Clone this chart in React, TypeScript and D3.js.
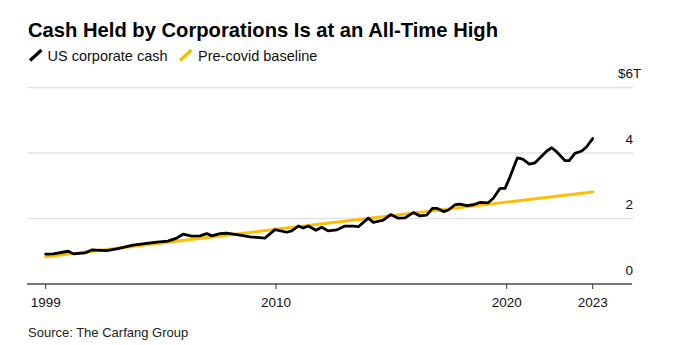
import React from "react";
import * as d3 from "d3";

const title = "Cash Held by Corporations Is at an All-Time High";
const source = "Source: The Carfang Group";
const seriesNames = ["US corporate cash", "Pre-covid baseline"];
const seriesColors = ["#000000", "#FCBF00"];

const cashDates = [
  1999.0, 1999.36, 2000.08, 2000.32, 2000.88, 2001.2, 2001.91, 2002.39, 2003.17, 2004.3,
  2004.84, 2005.26, 2005.56, 2005.97, 2006.37, 2006.69, 2006.93, 2007.32, 2007.64, 2008.28,
  2008.76, 2009.47, 2009.95, 2010.46, 2010.68, 2010.97, 2011.18, 2011.4, 2011.73, 2011.98,
  2012.27, 2012.63, 2012.99, 2013.35, 2013.57, 2014.0, 2014.22, 2014.65, 2014.97, 2015.3,
  2015.59, 2015.95, 2016.24, 2016.53, 2016.78, 2016.97, 2017.28, 2017.47, 2017.76, 2017.98,
  2018.27, 2018.55, 2018.84, 2019.2, 2019.42, 2019.71, 2019.93, 2020.12, 2020.37, 2020.56,
  2020.79, 2020.99, 2021.4, 2021.57, 2021.74, 2022.03, 2022.18, 2022.38, 2022.62, 2022.79,
  2023.0,
];
const cashValues = [
  0.91, 0.92, 1.0, 0.92, 0.95, 1.04, 1.02, 1.07, 1.19, 1.28,
  1.31, 1.4, 1.52, 1.46, 1.47, 1.54, 1.47, 1.54, 1.55, 1.49,
  1.44, 1.4, 1.66, 1.58, 1.62, 1.77, 1.71, 1.77, 1.64, 1.73,
  1.62, 1.65, 1.77, 1.77, 1.75, 2.01, 1.88, 1.95, 2.12, 2.01,
  2.02, 2.18, 2.08, 2.1, 2.31, 2.31, 2.21, 2.26, 2.42, 2.44,
  2.39, 2.42, 2.49, 2.48, 2.62, 2.92, 2.92, 3.28, 3.85, 3.81,
  3.66, 3.7, 4.06, 4.16, 4.04, 3.77, 3.77, 3.99, 4.06, 4.19,
  4.44,
];
const baselineDates = [1999, 2010, 2020, 2023];
const baselineValues = [0.83, 1.67, 2.5, 2.81];

const xTickYears = [1999, 2010, 2020, 2023];
const yTicks = [0, 2, 4, 6];

const W = 680;
const H = 345;

export default function App() {
  const x = d3
    .scaleLinear()
    .domain(xTickYears)
    .range([45.7, 276, 506.7, 592.7]);
  const y = d3.scaleLinear().domain([0, 6]).range([284, 87.5]);

  const line = d3
    .line<[number, number]>()
    .x((d) => x(d[0]))
    .y((d) => y(d[1]))
    .curve(d3.curveLinear);

  const cash = cashDates.map((d, i) => [d, cashValues[i]] as [number, number]);
  const base = baselineDates.map((d, i) => [d, baselineValues[i]] as [number, number]);

  const font = "'Liberation Sans', Arial, Helvetica, sans-serif";
  const gridX0 = 28;
  const gridX1 = 633;

  return (
    <svg
      width={W}
      height={H}
      style={{ position: "absolute", left: 0, top: 0, background: "#fff" }}
      fontFamily={font}
    >
      <text x={28} y={37} fontSize={20.2} fontWeight="bold" fill="#000">
        {title}
      </text>

      {/* legend */}
      <g>
        <line x1={30} y1={60.5} x2={41.5} y2={50} stroke={seriesColors[0]} strokeWidth={3.2} />
        <text x={47.5} y={60.8} fontSize={14.5} fill="#111">
          {seriesNames[0]}
        </text>
        <line x1={180} y1={60.5} x2={191.5} y2={50} stroke={seriesColors[1]} strokeWidth={3.2} />
        <text x={198} y={60.8} fontSize={14.5} fill="#111">
          {seriesNames[1]}
        </text>
      </g>

      {/* gridlines */}
      {yTicks
        .filter((t) => t !== 0)
        .map((t) => (
          <line key={t} x1={gridX0} x2={gridX1} y1={y(t)} y2={y(t)} stroke="#e2e2e2" strokeWidth={1.5} />
        ))}

      {/* y labels */}
      {yTicks.map((t, i) =>
        i === yTicks.length - 1 ? (
          <g key={t}>
            <text x={gridX1} y={y(t) - 9.5} fontSize={13.5} textAnchor="end" fill="#111">
              {"$" + t}
            </text>
            <text x={gridX1} y={y(t) - 9.5} fontSize={13.5} fill="#111">
              T
            </text>
          </g>
        ) : (
          <text key={t} x={gridX1} y={y(t) - 9.5} fontSize={13.5} textAnchor="end" fill="#111">
            {t}
          </text>
        )
      )}

      {/* series */}
      <path d={line(base) || ""} fill="none" stroke={seriesColors[1]} strokeWidth={3} strokeLinecap="round" />
      <path
        d={line(cash) || ""}
        fill="none"
        stroke={seriesColors[0]}
        strokeWidth={2.8}
        strokeLinejoin="round"
        strokeLinecap="round"
      />

      {/* x axis */}
      <line x1={27} x2={632} y1={y(0)} y2={y(0)} stroke="#777" strokeWidth={2} />
      {xTickYears.map((t) => (
        <g key={t}>
          <line x1={x(t)} x2={x(t)} y1={y(0)} y2={y(0) + 5} stroke="#333" strokeWidth={1} />
          <text x={x(t)} y={306.8} fontSize={13.5} textAnchor="middle" fill="#111">
            {t}
          </text>
        </g>
      ))}

      <text x={28} y={336.5} fontSize={13} fill="#222">
        {source}
      </text>
    </svg>
  );
}
